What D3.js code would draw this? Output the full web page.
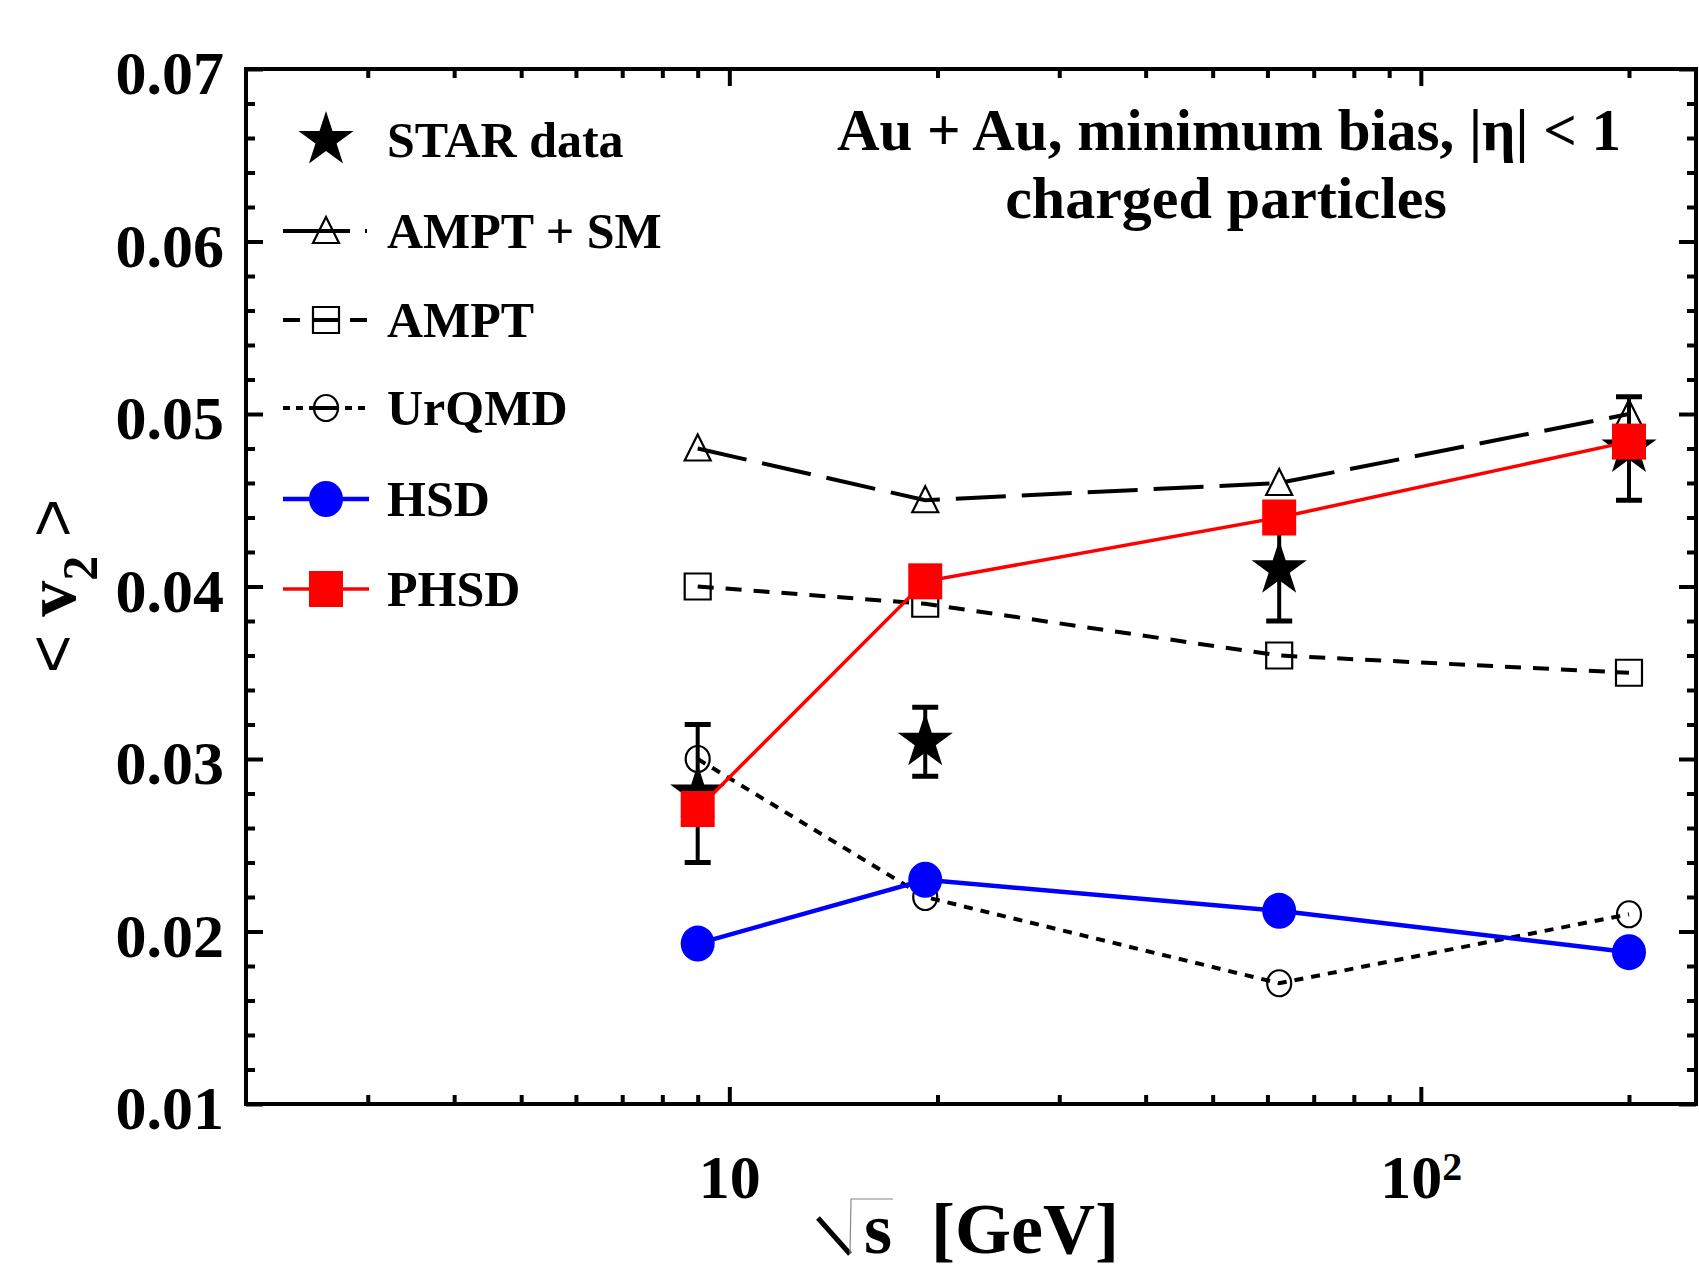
<!DOCTYPE html>
<html>
<head>
<meta charset="utf-8">
<script src="https://cdnjs.cloudflare.com/ajax/libs/d3/7.8.5/d3.min.js"></script>
<style>
  body { margin: 0; background: #fff; }
  text { font-family: "Liberation Serif", "Times New Roman", serif; font-weight: bold; }
</style>
</head>
<body>
<script>
// collision energies (GeV) as placed in the figure, and <v2> per model
var energies = [9.0, 19.2, 62.4, 200];
var starV2 = [0.028, 0.031, 0.041, 0.048];
var starErr = [0.004, 0.002, 0.003, 0.003];
var amptSmV2 = [0.048, 0.045, 0.046, 0.050];
var amptV2 = [0.040, 0.039, 0.036, 0.035];
var urqmdV2 = [0.030, 0.022, 0.017, 0.021];
var hsdV2 = [0.0193, 0.0230, 0.0212, 0.0188];
var phsdV2 = [0.0271, 0.0403, 0.0440, 0.0484];

var yMajor = [0.01, 0.02, 0.03, 0.04, 0.05, 0.06, 0.07];
var xMajor = [10, 100];
var xMinor = [3, 4, 5, 6, 7, 8, 9, 20, 30, 40, 50, 60, 70, 80, 90, 200];
var legendNames = ["STAR data", "AMPT + SM", "AMPT", "UrQMD", "HSD", "PHSD"];

var width = 1699, height = 1270;
var plotL = 246, plotR = 1696, plotT = 69, plotB = 1104;

var svg = d3.select("body").append("svg")
	.attr("width", width)
	.attr("height", height);

var x = d3.scaleLog().domain([2, 250]).range([plotL, plotR]);
var y = d3.scaleLinear().domain([0.01, 0.07]).range([plotB, plotT]);

var yMinor = d3.range(0.012, 0.07, 0.002).filter(function(v) {
	return Math.abs(Math.round(v * 100) - v * 100) > 1e-6;
});

// ---- axes ----
var styleAxis = function(g) {
	g.select(".domain").remove();
	g.selectAll(".tick line").attr("stroke", "#000").attr("stroke-width", 4);
};

svg.append("g").attr("transform", "translate(" + plotL + ",0)")
	.call(d3.axisLeft(y).tickValues(yMajor).tickSize(-17).tickPadding(22)
		.tickFormat(d3.format(".2f")))
	.call(styleAxis)
	.call(function(g) {
		g.selectAll("text").attr("dy", "0.4em")
			.style("font-size", "62px").attr("fill", "#000")
			.style("font-family", "'Liberation Serif', serif");
	});
svg.append("g").attr("transform", "translate(" + plotL + ",0)")
	.call(d3.axisLeft(y).tickValues(yMinor).tickSize(-9).tickFormat(""))
	.call(styleAxis);
svg.append("g").attr("transform", "translate(" + plotR + ",0)")
	.call(d3.axisRight(y).tickValues(yMajor).tickSize(-17).tickFormat(""))
	.call(styleAxis);
svg.append("g").attr("transform", "translate(" + plotR + ",0)")
	.call(d3.axisRight(y).tickValues(yMinor).tickSize(-9).tickFormat(""))
	.call(styleAxis);

svg.append("g").attr("transform", "translate(0," + plotB + ")")
	.call(d3.axisBottom(x).tickValues(xMajor).tickSize(-17).tickPadding(50).tickFormat(""))
	.call(styleAxis)
	.call(function(g) {
		g.selectAll(".tick").each(function(d) {
			var t = d3.select(this).select("text")
				.style("font-size", "62px").attr("fill", "#000")
				.style("font-family", "'Liberation Serif', serif");
			t.append("tspan").text("10");
			if (d === 100) {
				t.append("tspan").attr("dy", "-0.45em").style("font-size", "40px").text("2");
			}
		});
	});
svg.append("g").attr("transform", "translate(0," + plotB + ")")
	.call(d3.axisBottom(x).tickValues(xMinor).tickSize(-9).tickFormat(""))
	.call(styleAxis);
svg.append("g").attr("transform", "translate(0," + plotT + ")")
	.call(d3.axisTop(x).tickValues(xMajor).tickSize(-17).tickFormat(""))
	.call(styleAxis);
svg.append("g").attr("transform", "translate(0," + plotT + ")")
	.call(d3.axisTop(x).tickValues(xMinor).tickSize(-9).tickFormat(""))
	.call(styleAxis);

svg.append("rect")
	.attr("x", plotL).attr("y", plotT)
	.attr("width", plotR - plotL).attr("height", plotB - plotT)
	.attr("fill", "none").attr("stroke", "#000").attr("stroke-width", 4);

// ---- marker shapes ----
var starPath = d3.symbol(d3.symbolStar, 29 * 29 / 0.8908)();
var triPath = "M0,-14L13,12L-13,12Z";
var sqPath = "M-13,-13H13V13H-13Z";

var series = [
	{ vals: amptSmV2, color: "#000", width: 4, dash: "50,16", shape: "tri", legDash: "67,15,2,40" },
	{ vals: amptV2, color: "#000", width: 4, dash: "16,12", shape: "sq", legDash: "17,12,26,12,17,40" },
	{ vals: urqmdV2, color: "#000", width: 4, dash: "9,8", shape: "circ", legDash: "7,6,7,6,30,6,7,6,7,40" },
	{ vals: hsdV2, color: "#0000ff", width: 4.5, dash: null, shape: "blue" },
	{ vals: phsdV2, color: "#ff0000", width: 3.5, dash: null, shape: "red" }
];

var drawMarker = function(g, shape, color) {
	if (shape === "tri") {
		g.append("path").attr("d", triPath).attr("fill", "none").attr("stroke", "#000").attr("stroke-width", 2.2);
	} else if (shape === "sq") {
		g.append("path").attr("d", sqPath).attr("fill", "none").attr("stroke", "#000").attr("stroke-width", 2.2);
	} else if (shape === "circ") {
		g.append("ellipse").attr("rx", 12).attr("ry", 13).attr("fill", "none").attr("stroke", "#000").attr("stroke-width", 2.2);
	} else if (shape === "blue") {
		g.append("ellipse").attr("rx", 17).attr("ry", 18).attr("fill", color);
	} else if (shape === "red") {
		g.append("rect").attr("x", -17).attr("y", -18).attr("width", 34).attr("height", 36).attr("fill", color);
	} else if (shape === "star") {
		g.append("path").attr("d", starPath).attr("fill", "#000");
	}
};

// ---- STAR data with error bars ----
var star = svg.append("g");
energies.forEach(function(e, i) {
	var cx = x(e);
	var y1 = y(starV2[i] + starErr[i]), y0 = y(starV2[i] - starErr[i]);
	star.append("line").attr("x1", cx).attr("x2", cx).attr("y1", y1).attr("y2", y0)
		.attr("stroke", "#000").attr("stroke-width", 4);
	[y1, y0].forEach(function(yy) {
		star.append("line").attr("x1", cx - 13).attr("x2", cx + 13).attr("y1", yy).attr("y2", yy)
			.attr("stroke", "#000").attr("stroke-width", 5);
	});
	drawMarker(star.append("g").attr("transform", "translate(" + cx + "," + y(starV2[i]) + ")"), "star");
});

// ---- model curves ----
var line = d3.line()
	.x(function(d) { return x(d[0]); })
	.y(function(d) { return y(d[1]); });

series.forEach(function(s) {
	var pts = energies.map(function(e, i) { return [e, s.vals[i]]; });
	svg.append("path").attr("d", line(pts))
		.attr("fill", "none").attr("stroke", s.color)
		.attr("stroke-width", s.width)
		.attr("stroke-dasharray", s.dash);
	pts.forEach(function(p) {
		drawMarker(svg.append("g").attr("transform", "translate(" + x(p[0]) + "," + y(p[1]) + ")"), s.shape, s.color);
	});
});

// ---- legend ----
var legY = [140, 231, 320, 408, 499, 589];
var leg = svg.append("g");
legendNames.forEach(function(name, i) {
	var g = leg.append("g").attr("transform", "translate(0," + legY[i] + ")");
	if (i === 0) {
		drawMarker(g.append("g").attr("transform", "translate(326,0)"), "star");
	} else {
		var s = series[i - 1];
		g.append("line").attr("x1", 283).attr("x2", 369).attr("y1", 0).attr("y2", 0)
			.attr("stroke", s.color).attr("stroke-width", s.width)
			.attr("stroke-dasharray", s.legDash || null);
		drawMarker(g.append("g").attr("transform", "translate(326,0)"), s.shape, s.color);
	}
	g.append("text").attr("x", 387).attr("y", 17).style("font-size", "50px").text(name);
});

// ---- annotation ----
svg.append("text").attr("x", 1229).attr("y", 150).attr("text-anchor", "middle")
	.style("font-size", "59px").text("Au + Au, minimum bias, |\u03b7| < 1");
svg.append("text").attr("x", 1226).attr("y", 218).attr("text-anchor", "middle")
	.style("font-size", "60px").text("charged particles");

// ---- axis titles ----
var xl = svg.append("g");
xl.append("path").attr("d", "M818,1218L850,1254").attr("stroke", "#000").attr("stroke-width", 5).attr("fill", "none");
xl.append("path").attr("d", "M850,1254L851,1199L893,1199").attr("stroke", "#888").attr("stroke-width", 1.2).attr("fill", "none");
xl.append("text").attr("x", 864).attr("y", 1253).style("font-size", "72px").text("s");
xl.append("text").attr("x", 931).attr("y", 1253).style("font-size", "72px").text("[GeV]");

var yl = svg.append("text").attr("transform", "translate(75,586) rotate(-90)")
	.attr("text-anchor", "middle");
yl.append("tspan").style("font-family", "'Liberation Sans', Arial, sans-serif").style("font-weight", "normal")
	.style("font-size", "66px").text("<");
yl.append("tspan").style("font-size", "72px").text(" v");
yl.append("tspan").style("font-size", "50px").attr("dy", "22").text("2");
yl.append("tspan").style("font-family", "'Liberation Sans', Arial, sans-serif").style("font-weight", "normal")
	.style("font-size", "66px").attr("dy", "-22").text(" >");
</script>
</body>
</html>
